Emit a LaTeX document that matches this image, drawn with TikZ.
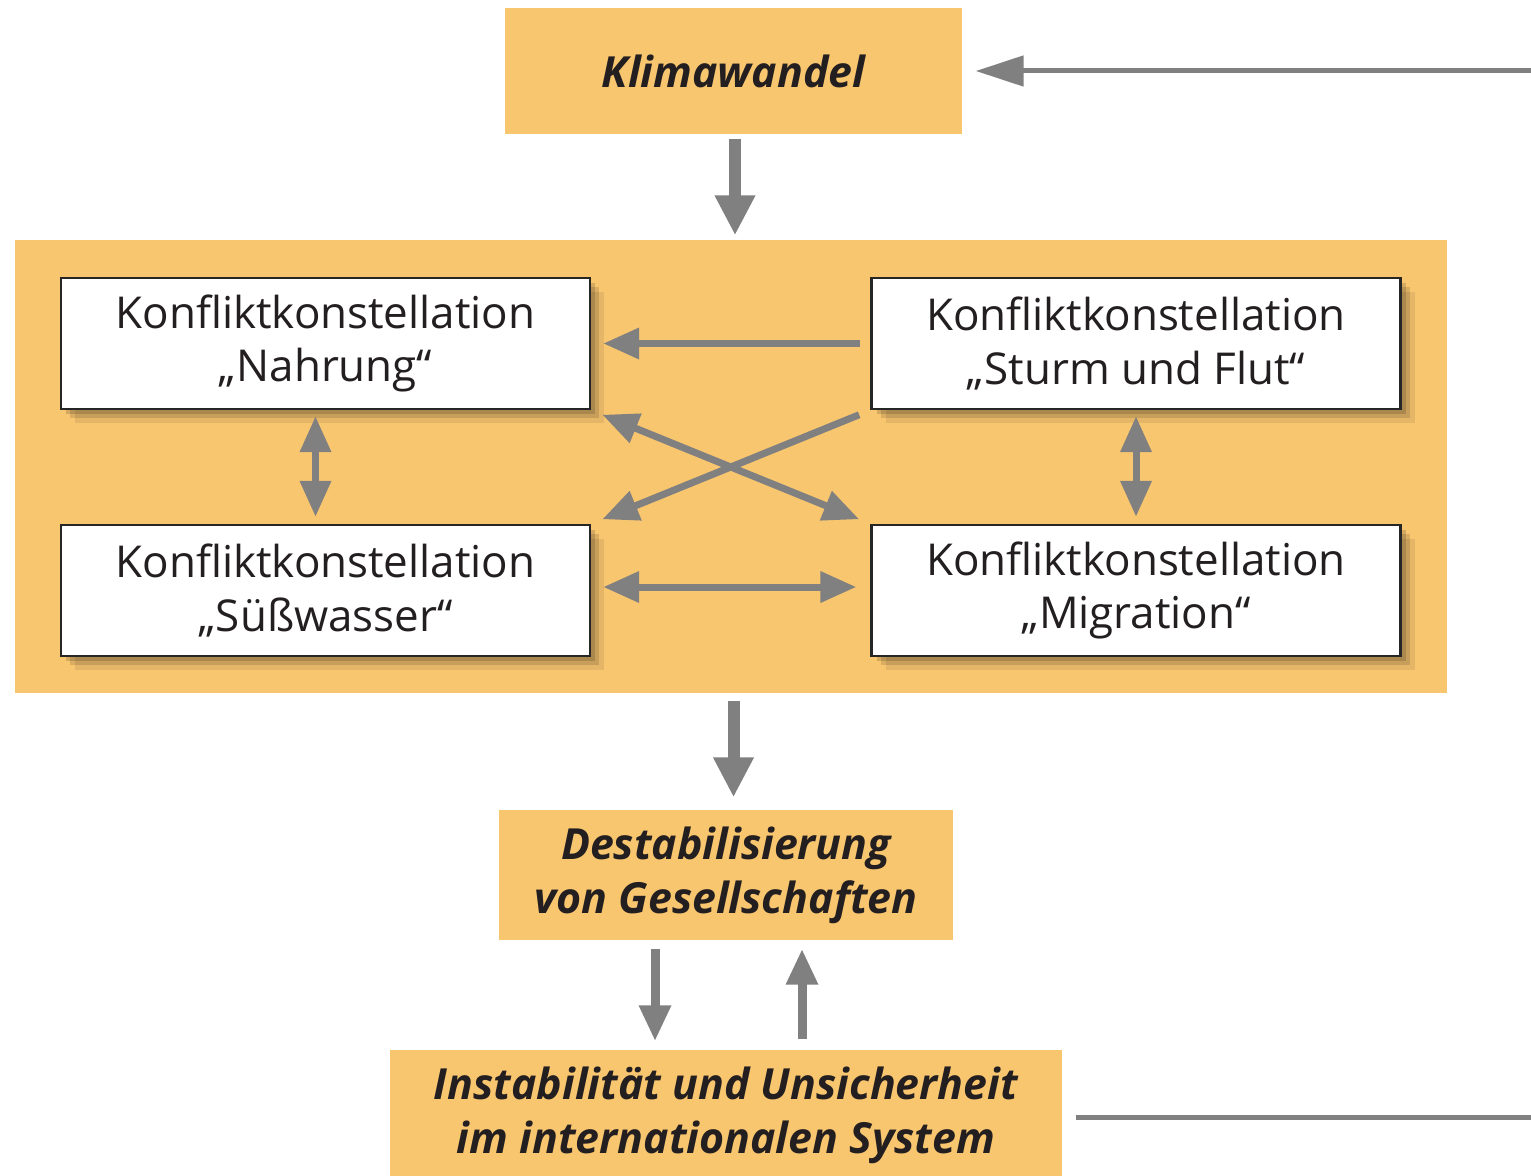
\documentclass[tikz,border=0pt]{standalone}
\usepackage{fontspec}
\setmainfont{Open Sans}
\usetikzlibrary{arrows.meta,shadows}
\definecolor{kastenorange}{RGB}{249,198,112}
\definecolor{pfeilgrau}{RGB}{128,128,128}
\definecolor{textschwarz}{RGB}{35,31,32}
\tikzset{
  orangekasten/.style={fill=kastenorange,inner sep=0pt,align=center,text=textschwarz,
    font=\fontsize{12.2}{15.3}\selectfont\bfseries\itshape},
  weichschatten/.style={drop shadow={shadow xshift=0.05cm,shadow yshift=-0.05cm,fill=black,opacity=0.15},
    drop shadow={shadow xshift=0.09cm,shadow yshift=-0.09cm,fill=black,opacity=0.12},
    drop shadow={shadow xshift=0.14cm,shadow yshift=-0.14cm,fill=black,opacity=0.08}},
  konflikt/.style={draw=black!85,line width=0.7pt,fill=white,inner sep=0pt,align=center,
    minimum width=5.29cm,minimum height=1.31cm,text=textschwarz,
    font=\fontsize{12.5}{15.3}\selectfont,weichschatten},
  dickpfeil/.style={pfeilgrau,line width=0.12cm,-{Triangle[width=0.38cm,length=0.40cm]}},
  pfeil/.style={pfeilgrau,line width=0.07cm,-{Triangle[width=0.3cm,length=0.36cm]}},
  doppelpfeil/.style={pfeil,{Triangle[width=0.3cm,length=0.36cm]}-{Triangle[width=0.3cm,length=0.36cm]}},
  rueckpfeil/.style={pfeilgrau,line width=0.05cm}
}
\begin{document}
\begin{tikzpicture}
  \useasboundingbox (0,0) rectangle (15.31,-11.75);
  \node[orangekasten,minimum width=4.57cm,minimum height=1.26cm] (klima) at (7.335,-0.71) {Klimawandel};
  \node[fill=kastenorange,minimum width=14.32cm,minimum height=4.53cm] (rahmen) at (7.31,-4.665) {};
  \node[konflikt] (nahrung) at (3.255,-3.435) {Konfliktkonstellation\\„Nahrung“};
  \node[konflikt] (sturm) at (11.36,-3.435) {Konfliktkonstellation\\„Sturm und Flut“};
  \node[konflikt] (suess) at (3.255,-5.905) {Konfliktkonstellation\\„Süßwasser“};
  \node[konflikt] (migration) at (11.36,-5.905) {Konfliktkonstellation\\„Migration“};
  \node[orangekasten,minimum width=4.54cm,minimum height=1.30cm] (destab) at (7.26,-8.75) {Destabilisierung\\von Gesellschaften};
  \node[orangekasten,minimum width=6.72cm,minimum height=1.30cm] (instab) at (7.26,-11.15) {Instabilität und Unsicherheit\\im internationalen System};
  \coordinate (rechtsoben) at (15.31,-0.71);
  \coordinate (rechtsunten) at (15.31,-11.17);

  \draw[dickpfeil,shorten <=0.04cm,shorten >=0.04cm] ([xshift=0.015cm]klima.south) -- ([xshift=0.015cm]klima.south |- rahmen.north);
  \draw[rueckpfeil,-{Triangle[width=0.3cm,length=0.48cm]},shorten >=0.13cm] (rechtsoben) -- (klima.east);
  \draw[rueckpfeil,shorten <=0.13cm] (instab.east |- rechtsunten) -- (rechtsunten);

  \draw[pfeil,shorten <=0.1cm,shorten >=0.12cm] (sturm.west) -- (nahrung.east);
  \draw[pfeil,shorten <=0.12cm,shorten >=0.12cm] (sturm.south west) -- (suess.north east);
  \draw[doppelpfeil,shorten <=0.12cm,shorten >=0.12cm] (nahrung.south east) -- (migration.north west);
  \draw[doppelpfeil,shorten <=0.06cm,shorten >=0.07cm] ([xshift=-0.1cm]nahrung.south) -- ([xshift=-0.1cm]suess.north);
  \draw[doppelpfeil,shorten <=0.06cm,shorten >=0.07cm] (sturm.south) -- (migration.north);
  \draw[doppelpfeil,shorten <=0.12cm,shorten >=0.14cm] ([yshift=0.035cm]suess.east) -- ([yshift=0.035cm]migration.west);

  \draw[dickpfeil,shorten <=0.07cm,shorten >=0.12cm] (klima.south |- rahmen.south) -- (klima.south |- destab.north);
  \draw[pfeil,line width=0.09cm,shorten <=0.08cm,shorten >=0.08cm] ([xshift=-0.71cm]destab.south) -- ([xshift=-0.71cm]destab.south |- instab.north);
  \draw[pfeil,line width=0.09cm,shorten <=0.1cm,shorten >=0.08cm] ([xshift=0.76cm]destab.south |- instab.north) -- ([xshift=0.76cm]destab.south);
\end{tikzpicture}
\end{document}
